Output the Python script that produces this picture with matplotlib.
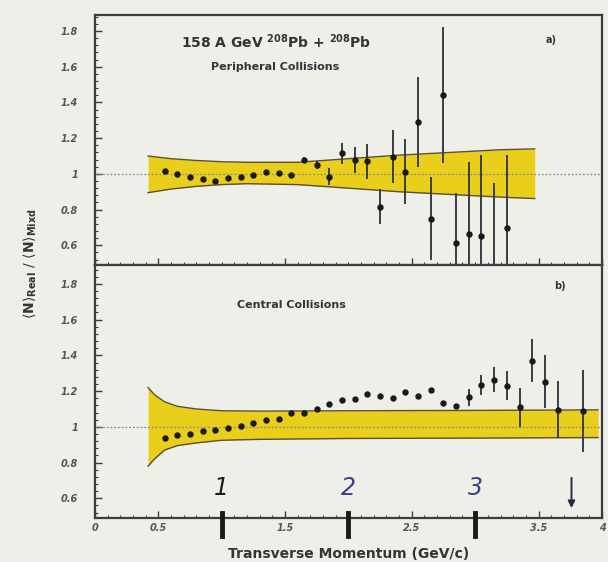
import numpy as np
import matplotlib
matplotlib.use("Agg")
import matplotlib.pyplot as plt
from matplotlib.ticker import MultipleLocator, FixedLocator

# peripheral collisions: ratio real / mixed vs pt
pt_per = [0.55, 0.65, 0.75, 0.85, 0.95, 1.05, 1.15, 1.25, 1.35, 1.45, 1.55,
          1.65, 1.75, 1.85, 1.95, 2.05, 2.15, 2.25, 2.35, 2.45, 2.55, 2.65,
          2.75, 2.85, 2.95, 3.05, 3.15, 3.25]
ratio_per = [1.015, 1.0, 0.985, 0.972, 0.962, 0.978, 0.985, 0.995, 1.01, 1.005,
             0.995, 1.078, 1.05, 0.985, 1.115, 1.078, 1.07, 0.817, 1.097, 1.013,
             1.29, 0.75, 1.44, 0.615, 0.665, 0.65, 0.45, 0.698]
err_per = [0, 0, 0, 0, 0, 0, 0, 0, 0, 0, 0, 0.015, 0.02, 0.046, 0.06, 0.075,
           0.1, 0.1, 0.15, 0.18, 0.25, 0.23, 0.38, 0.28, 0.40, 0.455, 0.5, 0.41]

# central collisions
pt_cen = [0.55, 0.65, 0.75, 0.85, 0.95, 1.05, 1.15, 1.25, 1.35, 1.45, 1.55,
          1.65, 1.75, 1.85, 1.95, 2.05, 2.15, 2.25, 2.35, 2.45, 2.55, 2.65,
          2.75, 2.85, 2.95, 3.05, 3.15, 3.25, 3.35, 3.45, 3.55, 3.65, 3.85]
ratio_cen = [0.94, 0.953, 0.961, 0.978, 0.98, 0.996, 1.002, 1.02, 1.04, 1.045,
             1.077, 1.08, 1.1, 1.13, 1.151, 1.156, 1.184, 1.173, 1.164, 1.194,
             1.17, 1.207, 1.132, 1.119, 1.166, 1.235, 1.263, 1.23, 1.11, 1.37,
             1.253, 1.095, 1.09]
err_cen = [0, 0, 0, 0, 0, 0, 0, 0, 0, 0, 0, 0, 0, 0, 0, 0, 0, 0, 0, 0, 0, 0,
           0, 0, 0.047, 0.056, 0.07, 0.08, 0.11, 0.12, 0.15, 0.16, 0.23]

# systematic error bands
band_per_x = [0.42, 0.6, 0.8, 1.0, 1.2, 1.6, 2.0, 2.4, 2.8, 3.2, 3.47]
band_per_hi = [1.10, 1.085, 1.075, 1.068, 1.065, 1.065, 1.085, 1.105, 1.12, 1.135, 1.14]
band_per_lo = [0.895, 0.915, 0.93, 0.94, 0.945, 0.94, 0.92, 0.90, 0.885, 0.87, 0.862]

band_cen_x = [0.42, 0.47, 0.55, 0.65, 0.8, 1.0, 1.3, 2.0, 3.0, 3.97]
band_cen_hi = [1.22, 1.18, 1.14, 1.115, 1.1, 1.09, 1.088, 1.09, 1.092, 1.095]
band_cen_lo = [0.78, 0.82, 0.87, 0.895, 0.91, 0.925, 0.93, 0.935, 0.937, 0.94]

bg = "#efefe9"
yellow = "#e9cf1c"
edge = "#5a5030"
ink = "#3c3c44"

fig = plt.figure(figsize=(6.08, 5.62), dpi=100, facecolor=bg)
ax1 = fig.add_axes([0.156, 0.5285, 0.834, 0.445], facecolor=bg)
ax2 = fig.add_axes([0.156, 0.0783, 0.834, 0.450], facecolor=bg)


def draw_panel(ax, bx, blo, bhi, x, y, err, ylim):
    ax.fill_between(bx, blo, bhi, color=yellow, lw=0, zorder=1)
    ax.plot(bx, bhi, color=edge, lw=1.0, zorder=2)
    ax.plot(bx, blo, color=edge, lw=1.0, zorder=2)
    ax.axhline(1.0, color="#8a8a8a", lw=0.9, ls=(0, (1.5, 1.5)), zorder=2)
    ax.errorbar(x, y, yerr=err, fmt="o", ms=3.6, color="#1a1a1a",
                ecolor=ink, elinewidth=1.4, capsize=0, zorder=3)
    ax.set_xlim(0, 4)
    ax.set_ylim(*ylim)
    ax.yaxis.set_major_locator(FixedLocator([0.6, 0.8, 1.0, 1.2, 1.4, 1.6, 1.8]))
    ax.yaxis.set_minor_locator(MultipleLocator(0.04))
    ax.xaxis.set_major_locator(FixedLocator([0, 0.5, 1.5, 2.5, 3.5, 4]))
    ax.xaxis.set_minor_locator(MultipleLocator(0.1))
    ax.tick_params(which="both", direction="in", colors=ink, top=False, right=False)
    ax.tick_params(which="major", length=5, width=1)
    ax.tick_params(which="minor", length=2.5, width=0.8)
    ax.tick_params(axis="y", which="major", pad=12)
    ax.set_yticklabels(["0.6", "0.8", "1", "1.2", "1.4", "1.6", "1.8"],
                       fontsize=7, fontweight="bold", style="italic", color="#55555c")
    for s in ax.spines.values():
        s.set_color(ink)
        s.set_linewidth(1.6)


draw_panel(ax1, band_per_x, band_per_lo, band_per_hi,
           pt_per, ratio_per, err_per, (0.49, 1.89))
draw_panel(ax2, band_cen_x, band_cen_lo, band_cen_hi,
           pt_cen, ratio_cen, err_cen, (0.49, 1.905))
ax1.set_xticklabels([])
ax2.set_xticklabels(["0", "0.5", "1.5", "2.5", "3.5", "4"],
                    fontsize=7, fontweight="bold", style="italic", color="#55555c")

ax1.text(1.43, 1.74, r"158 A GeV $^{\mathbf{208}}$Pb + $^{\mathbf{208}}$Pb",
         ha="center", va="center", fontsize=10, fontweight="bold", color="#333338")
ax1.text(1.42, 1.60, "Peripheral Collisions", ha="center", va="center",
         fontsize=8, fontweight="bold", color="#333338")
ax1.text(3.6, 1.75, "a)", ha="center", va="center", fontsize=7,
         fontweight="bold", color="#333338")
ax2.text(1.55, 1.68, "Central Collisions", ha="center", va="center",
         fontsize=8, fontweight="bold", color="#333338")
ax2.text(3.67, 1.79, "b)", ha="center", va="center", fontsize=7,
         fontweight="bold", color="#333338")

ax2.set_xlabel("Transverse Momentum (GeV/c)", fontsize=10, fontweight="bold",
               color="#333338", labelpad=10)
fig.text(0.05, 0.53, r"$\langle\mathbf{N}\rangle_{\mathbf{Real}}\ /\ \langle\mathbf{N}\rangle_{\mathbf{Mixd}}$",
         rotation=90, ha="center", va="center", fontsize=10, color="#333338")

# pen marks along the pt axis
for xm, lab, col in [(1, "1", "#1a1a1a"), (2, "2", "#3a3f8c"), (3, "3", "#3a3f8c")]:
    ax2.plot([xm, xm], [0.52, 0.39], color="#1a1a1a", lw=3.5, clip_on=False, zorder=5)
    ax2.text(xm, 0.66, lab, ha="center", va="center", fontsize=17,
             style="italic", color=col, zorder=5)
ax2.annotate("", xy=(3.76, 0.53), xytext=(3.76, 0.73),
             arrowprops=dict(arrowstyle="-|>", color="#2a2a40", lw=1.4))

fig.savefig("out.png", dpi=100, facecolor=bg)
